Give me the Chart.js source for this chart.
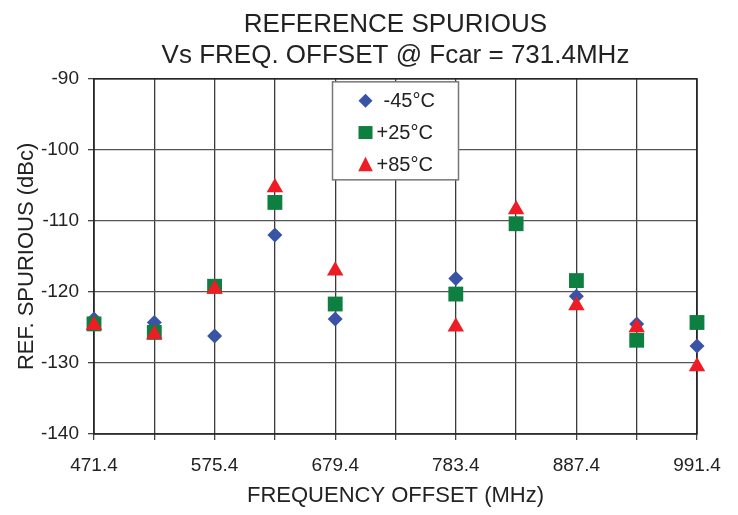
<!DOCTYPE html>
<html>
<head>
<meta charset="utf-8">
<script src="https://cdn.jsdelivr.net/npm/chart.js@4.4.1/dist/chart.umd.min.js"></script>
<style>
  html, body { margin: 0; padding: 0; background: #fff; }
  #wrap { position: relative; width: 738px; height: 515px; }
</style>
</head>
<body>
<div id="wrap"><canvas id="spurChart"></canvas></div>
<script>
// Data
const offsets = [471.4, 523.4, 575.4, 627.4, 679.4, 783.4, 835.4, 887.4, 939.4, 991.4];
const minus45 = [-123.8, -124.3, -126.2, -112.0, -123.8, -118.1, -110.4, -120.6, -124.5, -127.6];
const plus25  = [-124.5, -125.7, -119.2, -107.4, -121.7, -120.3, -110.4, -118.4, -126.8, -124.3];
const plus85  = [-124.7, -126.0, -119.6, -105.3, -117.0, -124.9, -108.4, -121.9, -125.0, -130.5];

const gridValues = [471.4, 523.4, 575.4, 627.4, 679.4, 731.4, 783.4, 835.4, 887.4, 939.4, 991.4];
const tickLabels = ['471.4', '575.4', '679.4', '783.4', '887.4', '991.4'];
const yTicks = [-90, -100, -110, -120, -130, -140];
const seriesNames = ['-45°C', '+25°C', '+85°C'];
const carrier = 731.4;

const FONT = '"Liberation Sans", Arial, sans-serif';
const colors = ['#3953a5', '#0d7f40', '#ee1c25'];
const shapes = ['rectRot', 'rect', 'triangle'];
const radii = [7.5, 10.5, 9.5];

function toPoints(vals) {
    return offsets.map((x, i) => ({ x: x, y: vals[i] }));
}

// legend drawn as a boxed list centred on the carrier line
const boxLegend = {
    id: 'boxLegend',
    afterDatasetsDraw(chart) {
        const ctx = chart.ctx;
        const cx = chart.scales.x.getPixelForValue(carrier);
        const top = chart.chartArea.top + 3;
        const w = 126, h = 98;
        const left = cx - w / 2;
        ctx.save();
        ctx.fillStyle = '#fff';
        ctx.fillRect(left, top, w, h);
        ctx.strokeStyle = '#777';
        ctx.lineWidth = 1.5;
        ctx.strokeRect(left, top, w, h);
        ctx.font = '20px ' + FONT;
        ctx.textBaseline = 'middle';
        seriesNames.forEach((name, i) => {
            const y = top + 19 + i * 31.7;
            const mx = left + 33;
            ctx.fillStyle = colors[i];
            ctx.beginPath();
            if (i === 0) {
                const r = 7;
                ctx.moveTo(mx, y - r); ctx.lineTo(mx + r, y);
                ctx.lineTo(mx, y + r); ctx.lineTo(mx - r, y);
            } else if (i === 1) {
                ctx.rect(mx - 7, y - 6.5, 14, 13);
            } else {
                ctx.moveTo(mx, y - 7.5); ctx.lineTo(mx + 7.3, y + 7); ctx.lineTo(mx - 7.3, y + 7);
            }
            ctx.closePath();
            ctx.fill();
            ctx.fillStyle = '#222';
            ctx.fillText(name, left + (i === 0 ? 51 : 44), y + 1);
        });
        ctx.restore();
    }
};

// plot frame on top of grid
const frame = {
    id: 'frame',
    beforeDatasetsDraw(chart) {
        const a = chart.chartArea;
        const ctx = chart.ctx;
        ctx.save();
        ctx.strokeStyle = '#222';
        ctx.lineWidth = 1.5;
        ctx.strokeRect(a.left, a.top, a.right - a.left, a.bottom - a.top);
        ctx.restore();
    }
};

new Chart(document.getElementById('spurChart'), {
    type: 'scatter',
    data: {
        datasets: seriesNames.map((name, i) => ({
            label: name,
            data: toPoints([minus45, plus25, plus85][i]),
            order: 2 - i,
            clip: false,
            pointStyle: shapes[i],
            pointRadius: radii[i],
            pointHoverRadius: radii[i],
            backgroundColor: colors[i],
            borderColor: colors[i],
            borderWidth: 0
        }))
    },
    options: {
        responsive: true,
        maintainAspectRatio: false,
        animation: false,
        events: [],
        layout: { padding: { left: 14, right: 41, top: 0, bottom: 6 } },
        plugins: {
            legend: { display: false },
            tooltip: { enabled: false },
            title: {
                display: true,
                fullSize: false,
                text: ['REFERENCE SPURIOUS', 'Vs FREQ. OFFSET @ Fcar = 731.4MHz'],
                color: '#222',
                font: { family: FONT, size: 26, weight: 'normal', lineHeight: 1.17 },
                padding: { top: 10, bottom: 8 }
            }
        },
        scales: {
            x: {
                type: 'linear',
                min: 471.4,
                max: 991.4,
                afterBuildTicks(scale) {
                    scale.ticks = gridValues.map(v => ({ value: v }));
                },
                afterFit(scale) { scale.height = 75; },
                ticks: {
                    autoSkip: false,
                    maxRotation: 0,
                    color: '#222',
                    padding: 14,
                    font: { family: FONT, size: 19 },
                    callback(value) {
                        const s = value.toFixed(1);
                        return tickLabels.includes(s) ? s : '';
                    }
                },
                grid: { color: '#3a3a3a', lineWidth: 1.3, tickLength: 6, tickColor: '#444' },
                border: { display: false },
                title: {
                    display: true,
                    text: 'FREQUENCY OFFSET (MHz)',
                    color: '#222',
                    font: { family: FONT, size: 22 },
                    padding: { top: 6, bottom: 0 }
                }
            },
            y: {
                min: -140,
                max: -90,
                afterBuildTicks(scale) {
                    scale.ticks = yTicks.map(v => ({ value: v }));
                },
                afterFit(scale) { scale.width = 80; },
                ticks: {
                    color: '#222',
                    padding: 9,
                    font: { family: FONT, size: 19 }
                },
                grid: { color: '#555', lineWidth: 1.3, tickLength: 6, tickColor: '#444' },
                border: { display: false },
                title: {
                    display: true,
                    text: 'REF. SPURIOUS (dBc)',
                    color: '#222',
                    font: { family: FONT, size: 22 },
                    padding: { top: 0, bottom: 0 }
                }
            }
        }
    },
    plugins: [frame, boxLegend]
});
</script>
</body>
</html>
